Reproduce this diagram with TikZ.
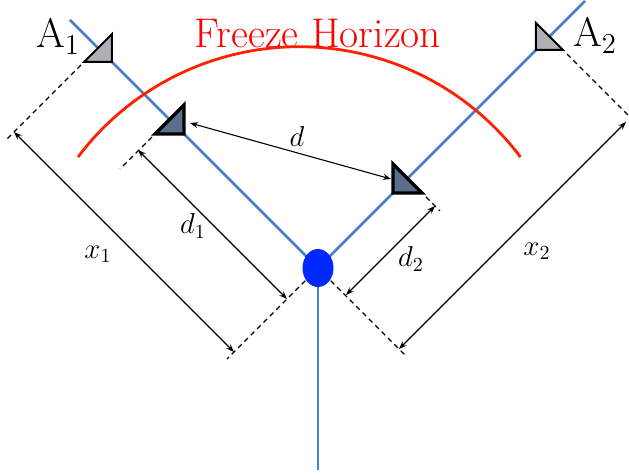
\documentclass[tikz,border=0pt]{standalone}
\usepackage{amsmath}
\usepackage{xcolor}
\usepackage{tikz}
\usetikzlibrary{arrows.meta,positioning,shapes.geometric}
\definecolor{axisc}{HTML}{4A7EC6}
\definecolor{hubc}{HTML}{0028FF}
\definecolor{horc}{HTML}{FF2200}
\definecolor{farc}{HTML}{B0B0B4}
\definecolor{nearc}{HTML}{5B6E8C}
\tikzset{
  branch/.style={line width=1.4pt,axisc},
  horizon/.style={line width=1.4pt,horc},
  hub/.style={ellipse,fill=hubc,minimum width=15.5pt,minimum height=19pt,inner sep=0pt},
  ext/.style={dash pattern=on 2.5pt off 2pt,line width=0.65pt},
  dim/.style={{Stealth[length=4pt,width=3pt]}-{Stealth[length=4pt,width=3pt]},line width=0.55pt},
  farant/.style={draw=black,line width=1pt,fill=farc},
  nearant/.style={draw=black,line width=1.6pt,fill=nearc},
  lbl/.style={font=\Large,inner sep=1pt},
  bigtxt/.style={font=\huge,inner sep=0pt}
}
\begin{document}
\begin{tikzpicture}[x=0.5pt,y=-0.5pt]
\useasboundingbox (0,0) rectangle (629,476);
% axes
\coordinate (o) at (318,268);
\coordinate (ltop) at (70,20);
\coordinate (rtop) at (585,1);
\coordinate (bot) at (318,470);
\draw[branch] (o) -- (ltop);
\draw[branch] (o) -- (rtop);
\draw[branch] (o) -- (bot);
% extension lines
\coordinate (ea1) at (81,65);   \coordinate (fa1) at (7,139);
\coordinate (eb1) at (152,137); \coordinate (fb1) at (120,169);
\coordinate (eb2) at (426,197); \coordinate (fb2) at (440,211);
\coordinate (ea2) at (567,54);  \coordinate (fa2) at (628,115);
\coordinate (fo1) at (227,359); \coordinate (fo2) at (406,356);
\draw[ext] (ea1) -- (fa1);
\draw[ext] (eb1) -- (fb1);
\draw[ext] (eb2) -- (fb2);
\draw[ext] (ea2) -- (fa2);
\draw[ext] (o) -- (fo1);
\draw[ext] (o) -- (fo2);
\node[hub] (hub) at (o) {};
% freeze horizon
\draw[horizon] (78,157) arc[start angle=-143,end angle=-37,radius=277];
\node[bigtxt,red,anchor=base] (fh) at (318,48) {Freeze Horizon};
% antennas
\filldraw[farant] (112,62) -- ++(-28,0) -- ++(28,-28) -- cycle;
\filldraw[farant] (536,50) -- ++(27,0) -- ++(-27,-27) -- cycle;
\filldraw[nearant] (184,134) -- ++(-29,0) -- ++(29,-29) -- cycle;
\filldraw[nearant] (393,193) -- ++(29,0) -- ++(-29,-29) -- cycle;
\node[bigtxt,anchor=base] (a1) at (58,48) {A$_1$};
\node[bigtxt,anchor=base] (a2) at (595,47) {A$_2$};
% dimensions
\coordinate (x1a) at (14,132);  \coordinate (x1b) at (234,352);
\coordinate (d1a) at (138,150); \coordinate (d1b) at (287,299);
\coordinate (d2a) at (435,206); \coordinate (d2b) at (346,295);
\coordinate (x2a) at (626,122); \coordinate (x2b) at (399,349);
\coordinate (da) at (190,123);  \coordinate (db) at (391,179);
\draw[dim] (x1a) -- (x1b);
\draw[dim] (d1a) -- (d1b);
\draw[dim] (d2a) -- (d2b);
\draw[dim] (x2a) -- (x2b);
\draw[dim] (da) -- (db);
\node[lbl] (ld) at (297,137) {$d$};
\node[lbl] (ld1) at (193,226) {$d_1$};
\node[lbl] (lx1) at (98,254) {$x_1$};
\node[lbl] (ld2) at (411,259) {$d_2$};
\node[lbl] (lx2) at (537,251) {$x_2$};
\end{tikzpicture}
\end{document}
